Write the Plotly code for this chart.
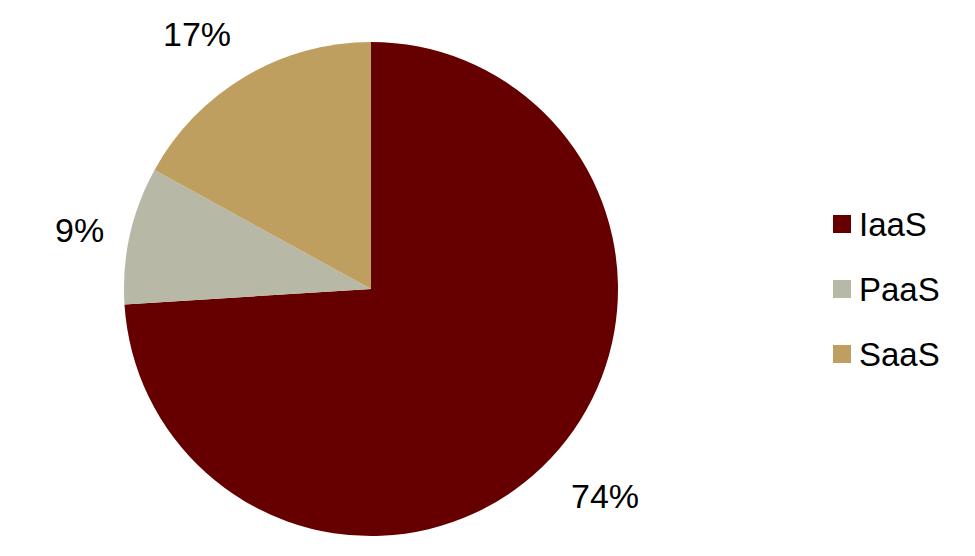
import math
import plotly.graph_objects as go

labels = ["IaaS", "PaaS", "SaaS"]
values = [74, 9, 17]
colors = ["#660000", "#B8B8A6", "#BF9F5F"]

# page offset (default body margin of the html page)
OFF = 8
W, H = 959, 540
FONT = "Liberation Sans, Arial"


def fx(px):
    return (px - OFF) / W


def fy(py):
    return 1 - (py - OFF) / H


cx, cy, R = 371, 289, 247

fig = go.Figure(go.Pie(
    labels=labels, values=values, sort=False, direction="clockwise", rotation=0,
    marker=dict(colors=colors, line=dict(width=0)),
    textinfo="none", hoverinfo="label+percent", showlegend=False,
    domain=dict(x=[fx(cx - R), fx(cx + R)], y=[fy(cy + R), fy(cy - R)]),
))

total = sum(values)
cum = 0
ann = []
for lab, v in zip(labels, values):
    mid = (cum + v / 2) / total * 2 * math.pi
    cum += v
    rr = R * 1.1
    s, c = math.sin(mid), math.cos(mid)
    px = cx + rr * s
    py = cy - rr * c
    xa = "right" if s < 0 else "left"
    ya = "bottom" if c > 0.5 else ("top" if c < -0.5 else "middle")
    ann.append(dict(x=fx(px), y=fy(py), xref="paper", yref="paper",
                    text=f"{round(v / total * 100)}%", showarrow=False,
                    xanchor=xa, yanchor=ya,
                    font=dict(size=34, color="#000000", family=FONT)))

# legend (drawn as annotations + squares to match the original spacing)
shapes = []
lx, ly0, step, sq = 833, 224, 65, 18
for i, (lab, col) in enumerate(zip(labels, colors)):
    yc = ly0 + i * step
    shapes.append(dict(type="rect", xref="paper", yref="paper",
                       x0=fx(lx), x1=fx(lx + sq), y0=fy(yc + sq / 2), y1=fy(yc - sq / 2),
                       fillcolor=col, line=dict(width=0)))
    ann.append(dict(x=fx(lx + sq + 6), y=fy(yc), xref="paper", yref="paper",
                    text=lab, showarrow=False, xanchor="left", yanchor="middle",
                    font=dict(size=33, color="#000000", family=FONT)))

fig.update_layout(
    width=W, height=H, margin=dict(l=0, r=0, t=0, b=0),
    paper_bgcolor="white", plot_bgcolor="white",
    annotations=ann, shapes=shapes, showlegend=False,
)
fig.write_html("out.html")
